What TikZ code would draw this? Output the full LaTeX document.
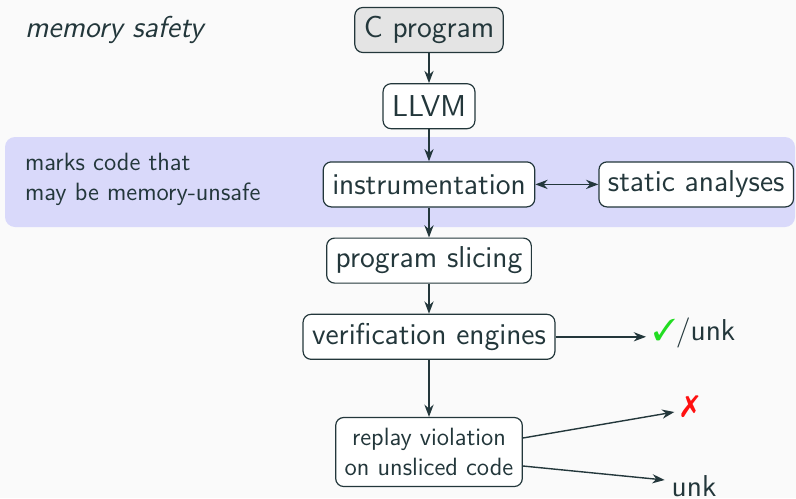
\documentclass[tikz,border=0pt]{standalone}
\usepackage{pifont}
\usetikzlibrary{positioning,arrows.meta}

\definecolor{bgcol}{HTML}{FAFAFA}
\definecolor{txtcol}{HTML}{23373B}
\definecolor{bandcol}{HTML}{D9D9FA}
\definecolor{startcol}{HTML}{E4E4E4}
\definecolor{okcol}{HTML}{22DD22}
\definecolor{failcol}{HTML}{FF1010}

\begin{document}
\begin{tikzpicture}[
  x=0.5pt,y=-0.5pt,
  >=Stealth,
  every node/.style={text=txtcol,font=\sffamily\fontsize{15.1}{18}\selectfont},
  stage/.style={draw=txtcol,fill=white,rounded corners=4pt,line width=0.6pt,
    minimum height=22.5pt,inner xsep=4.5pt},
  note/.style={align=left,font=\sffamily\fontsize{12.5}{15}\selectfont},
  flow/.style={->,draw=txtcol,line width=0.7pt},
  node distance=15pt
]
  \useasboundingbox[fill=bgcol] (0,0) rectangle (796,498);

  % highlighted band behind instrumentation
  \fill[bandcol,rounded corners=5pt] (5,137) rectangle (795,227);

  \node[anchor=west,font=\sffamily\itshape\fontsize{15.1}{18}\selectfont] (title) at (18,30) {memory safety};
  \node[note,anchor=west] (marks) at (18,179) {marks code that\\may be memory-unsafe};

  \node[stage,fill=startcol] (cprog) at (429,30) {C program};
  \node[stage,below=of cprog] (llvm) {LLVM};
  \node[stage,below=16pt of llvm] (instr) {instrumentation};
  \node[stage,right=31.5pt of instr] (static) {static analyses};
  \node[stage,below=of instr] (slice) {program slicing};
  \node[stage,below=of slice] (verif) {verification engines};
  \node[stage,note,align=center,minimum height=34.5pt,below=28.5pt of verif] (replay) {replay violation\\on unsliced code};

  \node[anchor=west] (ok) at (646,333) {\textcolor{okcol}{\ding{51}}/unk};
  \node (fail) at (690,407) {\textcolor{failcol}{\ding{55}}};
  \node (unk) at (694,486) {unk};

  \draw[flow] (cprog) -- (llvm);
  \draw[flow] (llvm) -- (instr);
  \draw[flow,<->] (instr) -- (static);
  \draw[flow] (instr) -- (slice);
  \draw[flow] (slice) -- (verif);
  \draw[flow] (verif) -- (replay);
  \draw[flow] (verif) -- (ok.west |- verif.east);
  \draw[flow] ([yshift=7pt]replay.east) -- ([yshift=-2.5pt]fail.west);
  \draw[flow] ([yshift=-7pt]replay.east) -- ([yshift=3pt]unk.west);
\end{tikzpicture}
\end{document}
